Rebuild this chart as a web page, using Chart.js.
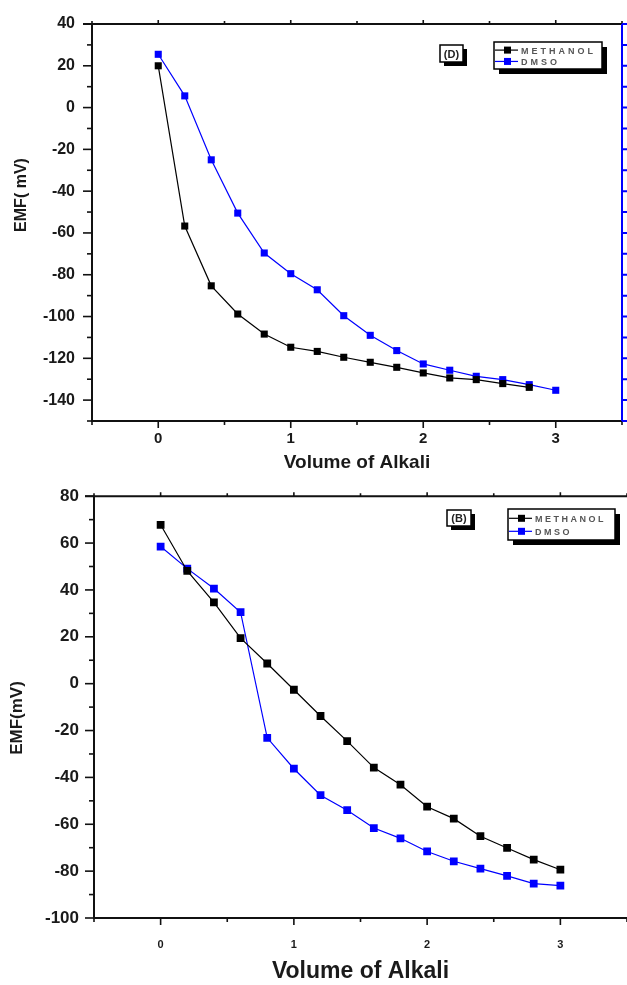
<!DOCTYPE html>
<html>
<head>
<meta charset="utf-8">
<script src="https://cdn.jsdelivr.net/npm/chart.js@4.4.1/dist/chart.umd.min.js"></script>
<style>
  html, body { margin: 0; padding: 0; background: #fff; overflow: hidden; width: 627px; height: 985px; }
  .box { position: absolute; left: 0; }
</style>
</head>
<body>
<div class="box" style="top:0;width:627px;height:480px"><canvas id="chartD"></canvas></div>
<div class="box" style="top:480px;width:640px;height:505px"><canvas id="chartB"></canvas></div>
<script>
// data
const volume = [0, 0.2, 0.4, 0.6, 0.8, 1.0, 1.2, 1.4, 1.6, 1.8, 2.0, 2.2, 2.4, 2.6, 2.8, 3.0];

// panel (D)
const methanolD = [20, -56.7, -85.3, -98.8, -108.4, -114.7, -116.7, -119.5, -121.9, -124.3, -127, -129.4, -130.2, -132.1, -133.9];
const dmsoD = [25.5, 5.6, -25, -50.5, -69.6, -79.5, -87.2, -99.6, -109, -116.3, -122.7, -125.7, -128.6, -130.2, -132.6, -135.3];

// panel (B)
const methanolB = [67.8, 48.1, 34.7, 19.4, 8.6, -2.6, -13.8, -24.5, -35.8, -43.1, -52.5, -57.6, -65.1, -70.1, -75.1, -79.4];
const dmsoB = [58.5, 49.1, 40.6, 30.5, -23.1, -36.3, -47.6, -54, -61.6, -66, -71.6, -75.8, -78.9, -82, -85.3, -86.2];

const seriesNames = ['METHANOL', 'DMSO'];
const seriesColors = ['#000000', '#0000ff'];
const xTickLabels = ['0', '1', '2', '3'];

function pts(ys) {
  return ys.map((y, i) => ({ x: volume[i], y: y }));
}

// frame, ticks, y title, legend and panel tag
const decorations = {
  id: 'decorations',
  afterDraw(chart, args, o) {
    const ctx = chart.ctx;
    const a = chart.chartArea;
    const xs = chart.scales.x, ys = chart.scales.y;
    ctx.save();
    ctx.strokeStyle = '#111';
    // ticks
    ctx.lineWidth = 1.6;
    xs.ticks.forEach(t => {
      const px = xs.getPixelForValue(t.value);
      const major = Math.abs(t.value - Math.round(t.value)) < 1e-6;
      ctx.beginPath();
      ctx.moveTo(px, a.bottom);
      ctx.lineTo(px, a.bottom + (major ? 7 : 4));
      ctx.moveTo(px, a.top);
      ctx.lineTo(px, a.top - (major ? 4 : 3));
      ctx.stroke();
    });
    ys.ticks.forEach(t => {
      const py = ys.getPixelForValue(t.value);
      const major = Math.abs(t.value % 20) < 1e-6;
      ctx.beginPath();
      ctx.moveTo(a.left, py);
      ctx.lineTo(a.left - (major ? 9 : 5), py);
      ctx.stroke();
    });
    // frame
    ctx.lineWidth = 2;
    ctx.beginPath();
    ctx.moveTo(a.left, a.top - 1);
    ctx.lineTo(a.left, a.bottom);
    ctx.lineTo(a.right, a.bottom);
    ctx.moveTo(a.left - 9, a.top);
    ctx.lineTo(a.right, a.top);
    ctx.stroke();
    if (o.rightColor) {
      ctx.strokeStyle = o.rightColor;
      ctx.beginPath();
      ctx.moveTo(a.right, a.top);
      ctx.lineTo(a.right, a.bottom);
      ys.ticks.forEach(t => {
        const py = ys.getPixelForValue(t.value);
        ctx.moveTo(a.right, py);
        ctx.lineTo(a.right + 6, py);
      });
      ctx.stroke();
    }

    // y title
    ctx.fillStyle = '#1a1a1a';
    ctx.font = 'bold ' + o.yTitleSize + 'px "Liberation Sans", Arial, sans-serif';
    ctx.textAlign = 'center';
    ctx.textBaseline = 'middle';
    ctx.translate(o.yTitleX, o.yTitleY);
    ctx.rotate(-Math.PI / 2);
    ctx.fillText(o.yTitle, 0, 0);
    ctx.setTransform(1, 0, 0, 1, 0, 0);

    // panel tag
    const g = o.tag;
    ctx.fillStyle = '#000';
    ctx.fillRect(g.x + 4, g.y + 4, g.w, g.h);
    ctx.fillStyle = '#fff';
    ctx.fillRect(g.x, g.y, g.w, g.h);
    ctx.lineWidth = 1.5;
    ctx.strokeStyle = '#000';
    ctx.strokeRect(g.x, g.y, g.w, g.h);
    ctx.fillStyle = '#222';
    ctx.font = 'bold 11px "Liberation Sans", Arial, sans-serif';
    ctx.fillText(g.text, g.x + g.w / 2, g.y + g.h / 2 + 1);

    // legend
    const L = o.legend;
    ctx.fillStyle = '#000';
    ctx.fillRect(L.x + 5, L.y + 5, L.w, L.h);
    ctx.fillStyle = '#fff';
    ctx.fillRect(L.x, L.y, L.w, L.h);
    ctx.strokeRect(L.x, L.y, L.w, L.h);
    ctx.textAlign = 'left';
    ctx.font = 'bold 9px "Liberation Sans", Arial, sans-serif';
    ctx.letterSpacing = L.spacing + 'px';
    chart.data.datasets.forEach((ds, i) => {
      const yy = L.y + L.h * (i === 0 ? 0.3 : 0.72);
      ctx.strokeStyle = ds.borderColor;
      ctx.lineWidth = 1.2;
      ctx.beginPath();
      ctx.moveTo(L.x + 1, yy);
      ctx.lineTo(L.x + 24, yy);
      ctx.stroke();
      ctx.fillStyle = ds.borderColor;
      ctx.fillRect(L.x + 10, yy - 3.5, 7, 7);
      ctx.fillStyle = '#555';
      ctx.fillText(ds.label, L.x + 27, yy + 1);
    });
    ctx.restore();
  }
};

function makeChart(id, cfg) {
  return new Chart(document.getElementById(id), {
    type: 'line',
    data: {
      datasets: [
        { label: seriesNames[0], data: pts(cfg.methanol) },
        { label: seriesNames[1], data: pts(cfg.dmso) }
      ].map((d, i) => Object.assign(d, {
        borderColor: seriesColors[i],
        backgroundColor: seriesColors[i],
        pointBackgroundColor: seriesColors[i],
        pointBorderColor: seriesColors[i],
        pointStyle: 'rect',
        pointRadius: cfg.pointRadius,
        pointBorderWidth: 0,
        borderWidth: 1.2,
        tension: 0,
        fill: false
      }))
    },
    options: {
      responsive: true,
      maintainAspectRatio: false,
      animation: false,
      layout: { padding: { top: cfg.top, right: cfg.right, left: 0, bottom: 0 } },
      plugins: {
        legend: { display: false },
        tooltip: { enabled: false },
        decorations: cfg.deco
      },
      scales: {
        x: {
          type: 'linear',
          min: -0.5, max: 3.5,
          afterFit(s) { s.height = cfg.xHeight; },
          grid: { drawOnChartArea: false, drawTicks: true, tickLength: cfg.xTickLen, color: 'transparent' },
          border: { display: false },
          ticks: {
            stepSize: 0.5,
            autoSkip: false,
            maxRotation: 0,
            padding: cfg.xTickPad,
            color: '#1a1a1a',
            font: { family: '"Liberation Sans", Arial, sans-serif', weight: 'bold', size: cfg.xTickSize },
            callback: v => {
              const k = xTickLabels.indexOf(String(v));
              return k >= 0 ? xTickLabels[k] : '';
            }
          },
          title: {
            display: true,
            text: 'Volume of Alkali',
            color: '#1a1a1a',
            padding: { top: 0, bottom: cfg.xTitlePad },
            font: { family: '"Liberation Sans", Arial, sans-serif', weight: 'bold', size: cfg.xTitleSize }
          }
        },
        y: {
          type: 'linear',
          min: cfg.yMin, max: cfg.yMax,
          afterFit(s) { s.width = cfg.yWidth; },
          grid: { drawOnChartArea: false, drawTicks: true, tickLength: 9, color: 'transparent' },
          border: { display: false },
          ticks: {
            stepSize: 10,
            autoSkip: false,
            padding: cfg.yTickPad,
            color: '#1a1a1a',
            font: { family: '"Liberation Sans", Arial, sans-serif', weight: 'bold', size: cfg.yTickSize },
            callback: v => (v % 20 === 0 ? String(v) : '')
          }
        }
      }
    },
    plugins: [decorations]
  });
}

makeChart('chartD', {
  methanol: methanolD, dmso: dmsoD,
  yMin: -150, yMax: 40,
  top: 24, right: 2, xHeight: 59, yWidth: 92,
  xTickLen: 6, xTickPad: 3, xTickSize: 15, xTitleSize: 19, xTitlePad: 6,
  yTickPad: 8, yTickSize: 16, pointRadius: 5,
  deco: {
    rightColor: '#0000ff',
    yTitle: 'EMF( mV)', yTitleSize: 16, yTitleX: 22, yTitleY: 195,
    tag: { x: 440, y: 45, w: 23, h: 17, text: '(D)' },
    legend: { x: 494, y: 42, w: 108, h: 27, spacing: 3 }
  }
});

makeChart('chartB', {
  methanol: methanolB, dmso: dmsoB,
  yMin: -100, yMax: 80,
  top: 12, right: 9, xHeight: 67, yWidth: 94,
  xTickLen: 7, xTickPad: 13, xTickSize: 11, xTitleSize: 23, xTitlePad: 0,
  yTickPad: 6, yTickSize: 17, pointRadius: 5.5,
  deco: {
    rightColor: null,
    yTitle: 'EMF(mV)', yTitleSize: 17, yTitleX: 17, yTitleY: 238,
    tag: { x: 447, y: 30, w: 24, h: 16, text: '(B)' },
    legend: { x: 508, y: 29, w: 107, h: 31, spacing: 2.5 }
  }
});
</script>
</body>
</html>
